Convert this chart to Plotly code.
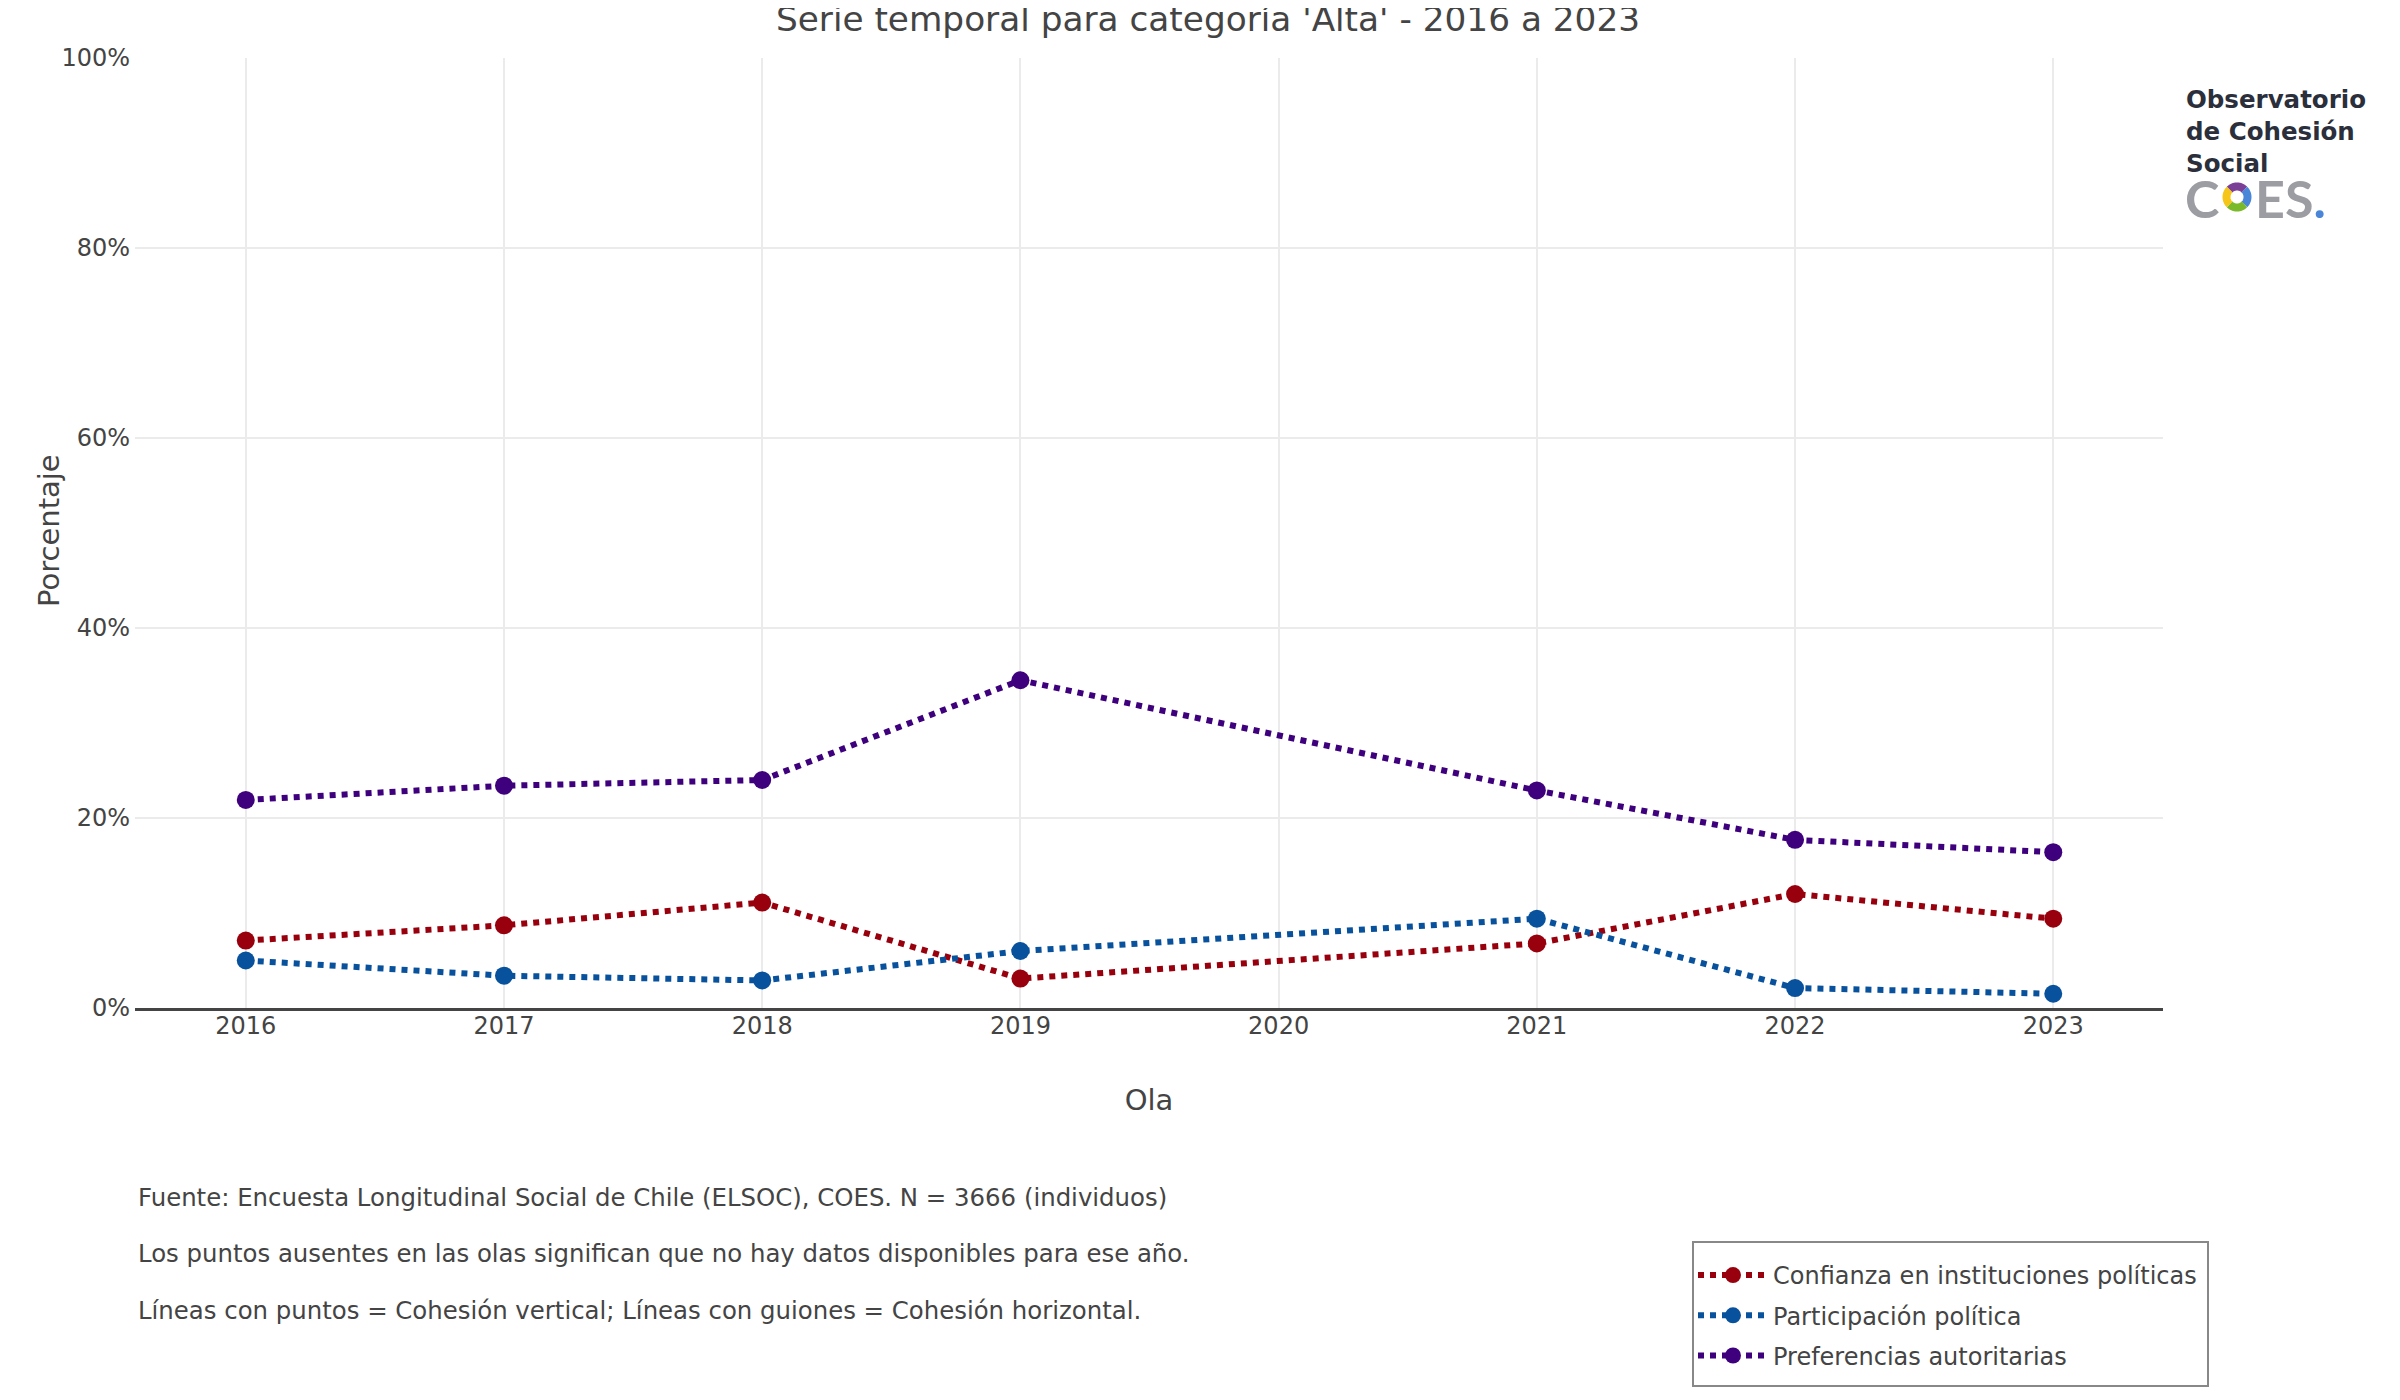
import numpy as np
import plotly.graph_objects as go

years = [2016, 2017, 2018, 2019, 2021, 2022, 2023]
confianza = [7.1, 8.7, 11.1, 3.1, 6.8, 12.0, 9.4]
participacion = [5.0, 3.4, 2.9, 6.0, 9.4, 2.1, 1.5]
autoritarias = [21.9, 23.4, 24.0, 34.5, 22.9, 17.7, 16.4]

series_names = ["Confianza en instituciones políticas", "Participación política", "Preferencias autoritarias"]
series_vals = [confianza, participacion, autoritarias]
series_colors = ["#99000d", "#08519c", "#3f007d"]

W, H = 2400, 1400
ML, MR, MT, MB = 127, 245, 50, 400
FONT = "DejaVu Sans, Verdana, sans-serif"

fig = go.Figure()
for name, vals, col in zip(series_names, series_vals, series_colors):
    fig.add_trace(go.Scatter(
        x=years, y=[v / 100 for v in vals], name=name, mode="lines+markers",
        line=dict(color=col, width=6, dash="dot"),
        marker=dict(color=col, size=18),
        connectgaps=True, legendgroup=name,
    ))

pw = W - ML - MR
ph = H - MT - MB
def px2paper(x, y):
    return (x - ML) / pw, (H - MB - y) / ph

annotations = []
notes = [
    "Fuente: Encuesta Longitudinal Social de Chile (ELSOC), COES. N = 3666 (individuos)",
    "Los puntos ausentes en las olas significan que no hay datos disponibles para ese año.",
    "Líneas con puntos = Cohesión vertical; Líneas con guiones = Cohesión horizontal.",
]
for i, t in enumerate(notes):
    x, y = px2paper(128, 1189 + i * 56.5)
    annotations.append(dict(text=t, xref="paper", yref="paper", x=x, y=y,
                            xanchor="left", yanchor="middle", showarrow=False,
                            font=dict(family=FONT, size=24.4, color="#444")))

# y-axis title
x, y = px2paper(41, 523)
annotations.append(dict(text="Porcentaje", xref="paper", yref="paper", x=x, y=y, textangle=-90,
                        xanchor="center", yanchor="middle", showarrow=False,
                        font=dict(family=FONT, size=29, color="#444")))

# Logo text
x, y = px2paper(2176, 123)
annotations.append(dict(text="<b>Observatorio<br>de Cohesión<br>Social</b>", xref="paper", yref="paper",
                        x=x, y=y, xanchor="left", yanchor="middle", align="left", showarrow=False,
                        font=dict(family="DejaVu Sans, sans-serif", size=24.5, color="#2b2f3b")))
x, y = px2paper(2213, 190)
annotations.append(dict(text="<b>C</b>", xref="paper", yref="paper", x=x, y=y, xanchor="right",
                        yanchor="middle", showarrow=False,
                        font=dict(family="Lato, sans-serif", size=52, color="#9c9da2")))
x, y = px2paper(2245, 190)
annotations.append(dict(text="<b>ES</b><span style='color:#4a86d8'><b>.</b></span>", xref="paper", yref="paper",
                        x=x, y=y, xanchor="left", yanchor="middle", showarrow=False,
                        font=dict(family="Lato, sans-serif", size=52, color="#9c9da2")))

# COES ring (logo decoration)
shapes = []
cx, cy, r = 2229, 189, 10.5
ring_cols = ["#7b3f98", "#4a86d8", "#7ab929", "#f5c518"]
starts = [45, -45, -135, 135]
for col, s in zip(ring_cols, starts):
    ang = np.radians(np.linspace(s, s + 90, 20))
    pts = [px2paper(cx + r * np.cos(a), cy - r * np.sin(a)) for a in ang]
    path = "M " + " L ".join(f"{p[0]:.5f},{p[1]:.5f}" for p in pts)
    shapes.append(dict(type="path", path=path, xref="paper", yref="paper",
                       line=dict(color=col, width=8)))

# legend frame
x0, y0 = px2paper(1685, 1234)
x1, y1 = px2paper(2200, 1378)
shapes.append(dict(type="rect", xref="paper", yref="paper", x0=x0, y0=y0, x1=x1, y1=y1,
                   line=dict(color="#888", width=2), fillcolor="rgba(0,0,0,0)", layer="below"))

lx, ly = px2paper(1685, 1245)
fig.update_layout(
    width=W, height=H,
    margin=dict(l=ML, r=MR, t=MT, b=MB),
    paper_bgcolor="white", plot_bgcolor="white",
    font=dict(family=FONT, color="#444", size=24),
    title=dict(text="Serie temporal para categoría 'Alta' - 2016 a 2023", x=0.5, xanchor="center",
               y=0.9925, yanchor="middle", yref="container",
               font=dict(family=FONT, size=34.3, color="#444")),
    xaxis=dict(title=dict(text="Ola", font=dict(size=29), standoff=51), range=[2015.571, 2023.425],
               tickmode="array", tickvals=list(range(2016, 2024)), automargin=False,
               showgrid=True, gridcolor="#ebebeb", gridwidth=2, zeroline=False,
               showline=True, linecolor="#444", linewidth=3, ticks="",
               tickfont=dict(size=24), ticklabelstandoff=-6),
    yaxis=dict(range=[0, 1], tickformat=".0%",
               tickvals=[0, 0.2, 0.4, 0.6, 0.8, 1.0], automargin=False,
               showgrid=True, gridcolor="#ebebeb", gridwidth=2, zeroline=False, ticks="",
               tickfont=dict(size=24), ticklabelstandoff=4),
    legend=dict(x=lx, y=ly, xanchor="left", yanchor="top", itemwidth=70,
                borderwidth=0, bgcolor="rgba(0,0,0,0)", tracegroupgap=6,
                font=dict(family=FONT, size=24, color="#444")),
    annotations=annotations,
    shapes=shapes,
    showlegend=True,
)

fig.write_html("out.html")
